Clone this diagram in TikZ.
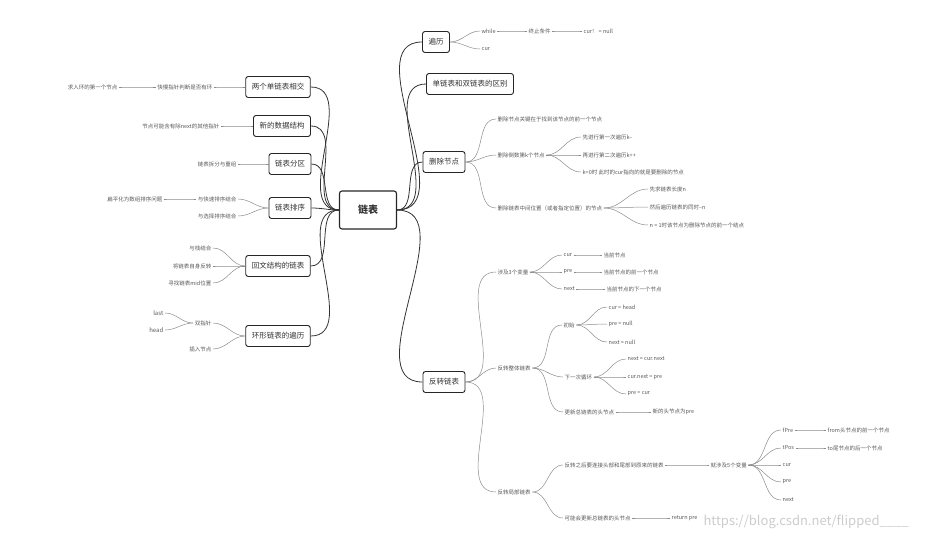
\documentclass[tikz,border=0pt]{standalone}
\usepackage{fontspec}
\setmainfont{Noto Sans CJK SC}
\begin{document}
\begin{tikzpicture}[x=1pt,y=-1pt,
 box/.style={draw=black!85,line width=0.9pt,rounded corners=2.5pt,font=\fontsize{7.5}{9}\selectfont,text=black!80,inner xsep=6pt,minimum height=21pt},
 t/.style={font=\fontsize{5.5}{6.5}\selectfont,text=black!65,inner sep=1.5pt},
 tw/.style={t,anchor=west}, te/.style={t,anchor=east},
 main/.style={draw=black!80,line width=0.8pt},
 br/.style={draw=black!45,line width=0.5pt}]
\useasboundingbox (0,0) rectangle (928,546);
\node[box,line width=1.1pt,font=\fontsize{10}{12}\selectfont\bfseries,minimum width=57pt,minimum height=38pt] (c) at (368,210) {链表};
% right boxes
\node[box] (bl) at (436,42) {遍历};
\node[box] (qb) at (470,84) {单链表和双链表的区别};
\node[box] (sc) at (444,162) {删除节点};
\node[box] (fz) at (444,382) {反转链表};
% left boxes
\node[box] (xj) at (278,87) {两个单链表相交};
\node[box] (xs) at (282,126) {新的数据结构};
\node[box] (fq) at (290,164) {链表分区};
\node[box] (px) at (290,208) {链表排序};
\node[box] (hw) at (278,266) {回文结构的链表};
\node[box] (hx) at (278,336) {环形链表的遍历};
\foreach \b in {bl,qb,sc,fz} \draw[main] (c.east) to[out=0,in=180] (\b.west);
\foreach \b in {xj,xs,fq,px,hw,hx} \draw[main] (c.west) to[out=180,in=0] (\b.east);
% 遍历
\node[tw] (w) at (480,31) {while};
\node[tw] (zz) at (527,31) {终止条件};
\node[tw] (cn) at (582,31) {cur！ = null};
\node[tw] (bc) at (480,49) {cur};
% 删除
\node[tw] (s1) at (496,119) {删除节点关键在于找到该节点的前一个节点};
\node[tw] (s2) at (496,155) {删除倒数第k个节点};
\node[tw] (s21) at (581,137) {先进行第一次遍历k--};
\node[tw] (s22) at (581,155) {再进行第二次遍历k++};
\node[tw] (s23) at (581,172) {k=0时 此时的cur指向的就是要删除的节点};
\node[tw] (s3) at (496,208) {删除链表中间位置（或者指定位置）的节点};
\node[tw] (s31) at (648,189) {先求链表长度n};
\node[tw] (s32) at (648,207) {然后遍历链表的同时--n};
\node[tw] (s33) at (648,225) {n = 1时该节点为删除节点的前一个结点};
% 反转
\node[tw] (f1) at (496,272) {涉及3个变量};
\node[tw] (f11) at (562,255) {cur};
\node[tw] (f12) at (562,272) {pre};
\node[tw] (f13) at (562,289) {next};
\node[tw] (f11a) at (602,255) {当前节点};
\node[tw] (f12a) at (602,272) {当前节点的前一个节点};
\node[tw] (f13a) at (605,289) {当前节点的下一个节点};
\node[tw] (f2) at (496,368) {反转整体链表};
\node[tw] (f21) at (562,325) {初始};
\node[tw] (f211) at (607,307) {cur = head};
\node[tw] (f212) at (607,324) {pre = null};
\node[tw] (f213) at (607,342) {next = null};
\node[tw] (f22) at (563,377) {下一次循环};
\node[tw] (f221) at (626,359) {next = cur.next};
\node[tw] (f222) at (626,377) {cur.next = pre};
\node[tw] (f223) at (626,394) {pre = cur};
\node[tw] (f23) at (563,412) {更新总链表的头节点};
\node[tw] (f231) at (651,412) {新的头节点为pre};
\node[tw] (f3) at (496,492) {反转局部链表};
\node[tw] (f31) at (563,465) {反转之后要连接头部和尾部到原来的链表};
\node[tw] (f311) at (709,465) {就涉及5个变量};
\node[tw] (v1) at (781,430) {fPre};
\node[tw] (v2) at (781,448) {tPos};
\node[tw] (v3) at (781,465) {cur};
\node[tw] (v4) at (781,482) {pre};
\node[tw] (v5) at (781,500) {next};
\node[tw] (v1a) at (826,430) {from头节点的前一个节点};
\node[tw] (v2a) at (826,448) {to尾节点的后一个节点};
\node[tw] (f32) at (563,518) {可能会更新总链表的头节点};
\node[tw] (f321) at (670,518) {return pre};
\foreach \a/\b in {bl/w,w/zz,zz/cn,bl/bc,sc/s1,sc/s2,sc/s3,s2/s21,s2/s22,s2/s23,s3/s31,s3/s32,s3/s33,
 fz/f1,f1/f11,f1/f12,f1/f13,f11/f11a,f12/f12a,f13/f13a,fz/f2,f2/f21,f21/f211,f21/f212,f21/f213,f2/f22,f22/f221,f22/f222,f22/f223,f2/f23,f23/f231,
 fz/f3,f3/f31,f31/f311,f311/v1,f311/v2,f311/v3,f311/v4,f311/v5,v1/v1a,v2/v2a,f3/f32,f32/f321}
 \draw[br] (\a.east) to[out=0,in=180] (\b.west);
% left
\node[te] (l1) at (214,87) {快慢指针判断是否有环};
\node[te] (l11) at (119,87) {求入环的第一个节点};
\node[te] (l2) at (221,126) {节点可能含有除next的其他指针};
\node[te] (l3) at (238,164) {链表拆分与重组};
\node[te] (l4) at (238,199) {与快速排序结合};
\node[te] (l41) at (164,199) {扁平化为数组排序问题};
\node[te] (l5) at (238,216) {与选择排序结合};
\node[te] (l6) at (213,248) {与栈结合};
\node[te] (l7) at (213,266) {将链表自身反转};
\node[te] (l8) at (213,283) {寻找链表mid位置};
\node[te] (l9) at (213,323) {双指针};
\node[te,font=\fontsize{6}{7}\selectfont] (l91) at (165,313) {last};
\node[te,font=\fontsize{6}{7}\selectfont] (l92) at (165,330) {head};
\node[te] (l10) at (213,349) {插入节点};
\foreach \a/\b in {xj/l1,l1/l11,xs/l2,fq/l3,px/l4,l4/l41,px/l5,hw/l6,hw/l7,hw/l8,hx/l9,l9/l91,l9/l92,hx/l10}
 \draw[br] (\a.west) to[out=180,in=0] (\b.east);
\node[anchor=west,font=\fontsize{13}{14}\selectfont,text=black!20] at (700,522) {https://blog.csdn.net/flipped\_\_\_\_};
\end{tikzpicture}
\end{document}
